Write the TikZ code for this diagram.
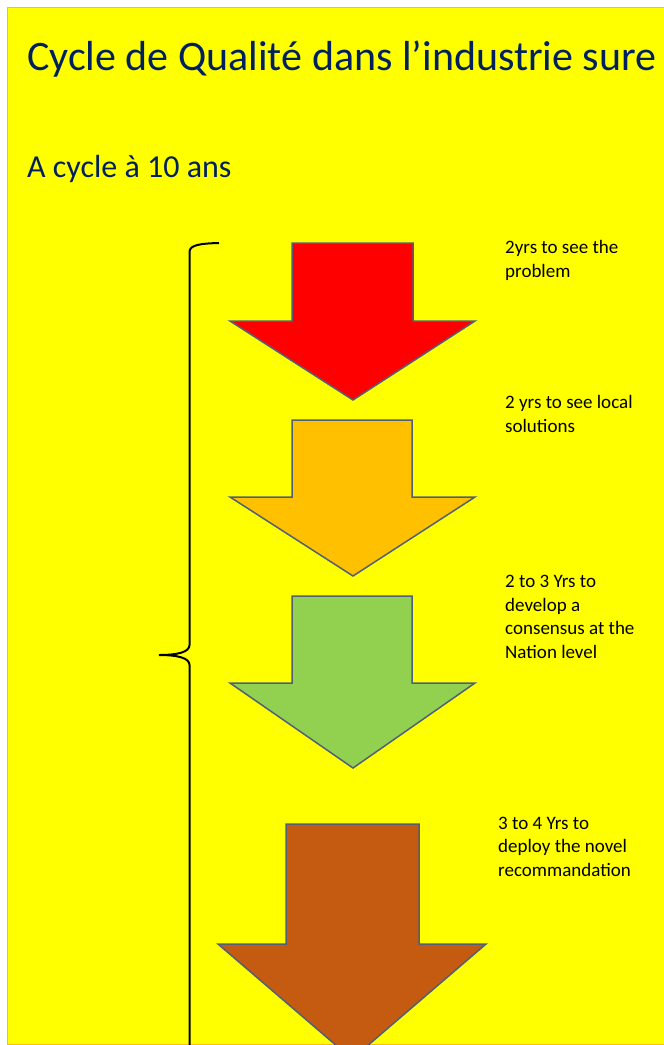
\documentclass[tikz,border=0pt]{standalone}
\usepackage{fontspec}
\setmainfont{Carlito}
\definecolor{bgyellow}{HTML}{FFFF00}
\definecolor{bgborder}{HTML}{FFC000}
\definecolor{navy}{HTML}{002060}
\definecolor{cred}{HTML}{FF0000}
\definecolor{corange}{HTML}{FFC000}
\definecolor{cgreen}{HTML}{92D050}
\definecolor{cbrown}{HTML}{C55A11}
\definecolor{outl}{HTML}{50607A}
\tikzset{
  bigarrow/.style={draw=outl, line width=1.5pt, line join=miter},
  sidetext/.style={anchor=base west, inner sep=0pt, align=left, font=\fontsize{19}{23.5}\selectfont, text=black},
  bracestyle/.style={draw=black, line width=2pt}
}
\begin{document}
\begin{tikzpicture}[x=1pt,y=-1pt]
\useasboundingbox (0,0) rectangle (664,1045);
\fill[white] (0,0) rectangle (664,1045);
\begin{scope}
\clip (7,7) rectangle (664,1045);
\fill[bgyellow] (7,7) rectangle (670,1050);
\draw[bgborder, line width=1pt] (7.5,1050) -- (7.5,7.5) -- (670,7.5);
\draw[bgborder, line width=1pt] (7,1044.5) -- (670,1044.5);
\node[anchor=base west, inner sep=0pt, text=navy, font=\fontsize{42}{50}\selectfont] (title) at (27,70) {Cycle de Qualité dans l’industrie sure};
\node[anchor=base west, inner sep=0pt, text=navy, font=\fontsize{32}{38}\selectfont] (sub) at (27,177) {A cycle à 10 ans};
\path[bigarrow, fill=cred] (292,243) -- (413,243) -- (413,321) -- (475,321) -- (353,400) -- (230,321) -- (292,321) -- cycle;
\path[bigarrow, fill=corange] (292,420) -- (412,420) -- (412,497) -- (475,497) -- (353,576) -- (230,497) -- (292,497) -- cycle;
\path[bigarrow, fill=cgreen] (292,596) -- (412,596) -- (412,683) -- (475,683) -- (353,768) -- (230,683) -- (292,683) -- cycle;
\path[bigarrow, fill=cbrown] (286,824) -- (419,824) -- (419,944) -- (486,944) -- (352,1059) -- (218,944) -- (286,944) -- cycle;
\node[sidetext] (t1) at (505,277) {2yrs to see the\\problem};
\node[sidetext] (t2) at (505,432) {2 yrs to see local\\solutions};
\node[sidetext] (t3) at (505,658) {2 to 3 Yrs to\\develop a\\consensus at the\\Nation level};
\node[sidetext] (t4) at (498,876) {3 to 4 Yrs to\\deploy the novel\\recommandation};
\draw[bracestyle] (219,243) .. controls (200,243.5) and (189.5,245) .. (189.5,252)
  -- (189.5,645) .. controls (189.5,652) and (178,655) .. (159,655)
  .. controls (178,655) and (189.5,658) .. (189.5,665) -- (189.5,1060);
\end{scope}
\end{tikzpicture}
\end{document}
